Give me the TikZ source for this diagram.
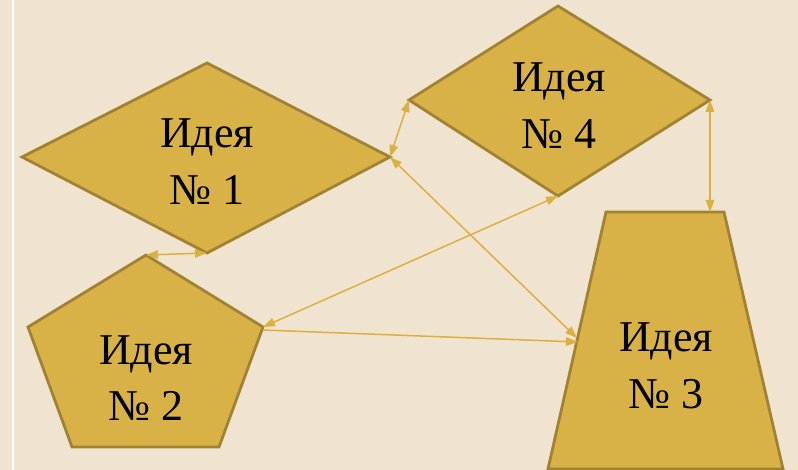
\documentclass[tikz,border=0pt]{standalone}
\usepackage{fontspec}
\setmainfont{Liberation Serif}
\usetikzlibrary{arrows.meta}
\definecolor{bgc}{HTML}{F0E4D0}
\definecolor{goldfill}{HTML}{D8B247}
\definecolor{goldline}{HTML}{A08232}
\definecolor{arrowc}{HTML}{DAB040}
\tikzset{
  shapebox/.style={fill=goldfill,draw=goldline,line width=2.8pt,line join=miter},
  link/.style={draw=arrowc,line width=1.5pt,-{Triangle[length=12pt,width=8.5pt]}},
  blink/.style={draw=arrowc,line width=1.5pt,{Triangle[length=12pt,width=8.5pt]}-{Triangle[length=12pt,width=8.5pt]}},
  lbl/.style={anchor=base,inner sep=0pt,font=\fontsize{44}{57}\selectfont,text=black}
}
\begin{document}
\begin{tikzpicture}[x=1pt,y=-1pt]
\useasboundingbox (0,0) rectangle (798,470);
\fill[bgc] (0,0) rectangle (798,470);
\fill[white] (11.5,0) rectangle (14,470);
% vertices
\coordinate (d1l) at (22,157); \coordinate (d1t) at (207,63);
\coordinate (d1r) at (390,157); \coordinate (d1b) at (207,253);
\coordinate (d4l) at (409,100); \coordinate (d4t) at (558,6);
\coordinate (d4r) at (710,100); \coordinate (d4b) at (558,196);
\coordinate (p2t) at (146,255); \coordinate (p2l) at (28,327);
\coordinate (p2r) at (263,327); \coordinate (p2bl) at (72,447);
\coordinate (p2br) at (219,447);
\coordinate (t3tl) at (606,212); \coordinate (t3tr) at (724,212);
\coordinate (t3br) at (783,469); \coordinate (t3bl) at (548,469);
\coordinate (t3top) at (710,212);
\coordinate (t3a) at (577,338); \coordinate (t3b) at (578,342);
\coordinate (p2rb) at (263,330);
% shapes
\draw[shapebox] (d1l) -- (d1t) -- (d1r) -- (d1b) -- cycle;
\draw[shapebox] (d4l) -- (d4t) -- (d4r) -- (d4b) -- cycle;
\draw[shapebox] (p2t) -- (p2r) -- (p2br) -- (p2bl) -- (p2l) -- cycle;
\draw[shapebox] (t3tl) -- (t3tr) -- (t3br) -- (t3bl) -- cycle;
% labels
\node[lbl] (i1a) at (207,148) {Идея};
\node[lbl] (i1b) at (207,205) {№ 1};
\node[lbl] (i4a) at (559,92) {Идея};
\node[lbl] (i4b) at (559,149) {№ 4};
\node[lbl] (i2a) at (146,364) {Идея};
\node[lbl] (i2b) at (146,420) {№ 2};
\node[lbl] (i3a) at (666,352) {Идея};
\node[lbl] (i3b) at (666,408) {№ 3};
% connectors
\draw[blink] (d1r) -- (d4l);
\draw[blink] (d4r) -- (t3top);
\draw[blink] (p2t) -- (d1b);
\draw[blink] (d4b) -- (p2r);
\draw[blink] (d1r) -- (t3a);
\draw[link] (p2rb) -- (t3b);
\end{tikzpicture}
\end{document}
